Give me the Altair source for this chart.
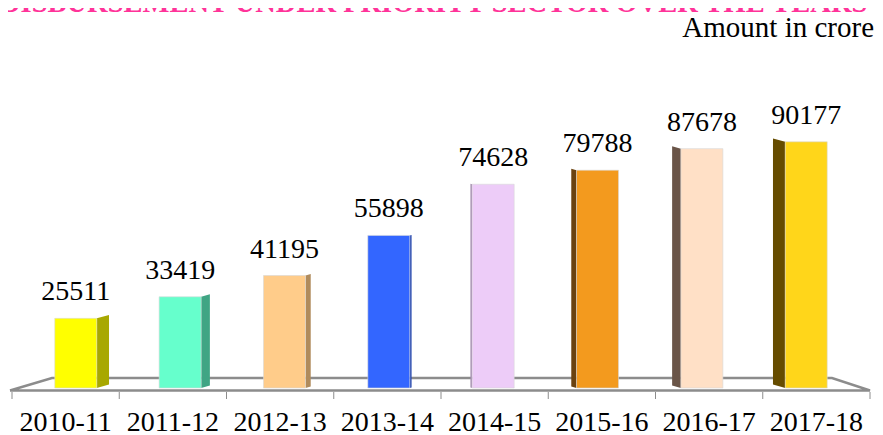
import altair as alt
import pandas as pd

# ---- data ----
years = ["2010-11", "2011-12", "2012-13", "2013-14", "2014-15", "2015-16", "2016-17", "2017-18"]
amounts = [25511, 33419, 41195, 55898, 74628, 79788, 87678, 90177]
front_colors = ["#FFFF00", "#66FFCC", "#FFCC8A", "#3366FF", "#EDCCF8", "#F39A1E", "#FFE0C6", "#FFD61A"]
side_colors = ["#A8A800", "#40A584", "#B08B5C", "#2447B0", "#A58FB0", "#6A4210", "#6A5548", "#664C00"]
title_text = "DISBURSEMENT UNDER PRIORITY SECTOR OVER THE YEARS"
unit_text = "Amount in crore"

# ---- layout ----
W, H = 858, 273
Y_MAX = 100000
PX_X = W / len(years)          # px per category
PX_Y = H / Y_MAX               # px per amount unit
FONT = "Liberation Serif"

front_rows, side_rows = [], []
for i, (yr, v) in enumerate(zip(years, amounts)):
    k = 3.5 - i
    center = i + 0.5 + k * 2.9 / PX_X
    half = 21 / PX_X
    front_rows.append(dict(year=yr, amount=v, mid=i + 0.5, x0=center - half,
                           x1=center + half, xc=center, zero=0, color=front_colors[i]))
    w_px = abs(k) * 3.5
    w = w_px / PX_X
    rise = w_px * 0.28 / PX_Y
    if k > 0:
        inner, outer = center + half, center + half + w
    else:
        inner, outer = center - half, center - half - w
    side_rows.append(dict(bar=yr, sx=inner, top=v, bot=0, color=side_colors[i]))
    side_rows.append(dict(bar=yr, sx=outer, top=v + rise, bot=rise, color=side_colors[i]))

front_df = pd.DataFrame(front_rows)
side_df = pd.DataFrame(side_rows)

xs = alt.Scale(domain=[0, len(years)], nice=False, zero=False)
ys = alt.Scale(domain=[0, Y_MAX], nice=False)

# floor (perspective frame)
fy_front = -2.5 / PX_Y
fy_back = 10 / PX_Y
floor_df = pd.DataFrame(dict(
    fx=[-2 / PX_X, 40 / PX_X, (W - 38) / PX_X, W / PX_X, -2 / PX_X],
    fy=[fy_front, fy_back, fy_back, fy_front, fy_front],
    o=[0, 1, 2, 3, 4],
))
floor = alt.Chart(floor_df).mark_line(color="#8C8C8C", strokeWidth=2.4).encode(
    x=alt.X("fx:Q", scale=xs, axis=None),
    y=alt.Y("fy:Q", scale=ys, axis=None),
    order="o:Q",
)

ticks_df = pd.DataFrame(dict(b=list(range(len(years) + 1))))
ticks = alt.Chart(ticks_df).mark_rule(color="#8C8C8C", strokeWidth=1).encode(
    x=alt.X("b:Q", scale=xs),
    y=alt.value(277),
    y2=alt.value(284),
)

sides = alt.Chart(side_df).mark_area(opacity=1).encode(
    x=alt.X("sx:Q", scale=xs),
    y=alt.Y("top:Q", scale=ys),
    y2="bot:Q",
    detail="bar:N",
    color=alt.Color("color:N", scale=None),
)

fronts = alt.Chart(front_df).mark_rect(stroke="#D8D8D8", strokeWidth=0.6).encode(
    x=alt.X("x0:Q", scale=xs),
    x2="x1:Q",
    y=alt.Y("amount:Q", scale=ys),
    y2="zero:Q",
    fill=alt.Color("color:N", scale=None),
)

values = alt.Chart(front_df).mark_text(font=FONT, fontSize=28, dy=-18, baseline="alphabetic",
                                      align="center", color="#000000").encode(
    x=alt.X("xc:Q", scale=xs),
    y=alt.Y("amount:Q", scale=ys),
    text="amount:Q",
)

cats = alt.Chart(front_df).mark_text(font=FONT, fontSize=28, baseline="alphabetic",
                                    align="center", color="#000000").encode(
    x=alt.X("mid:Q", scale=xs),
    y=alt.value(316),
    text="year:N",
)

unit = alt.Chart(pd.DataFrame(dict(t=[unit_text]))).mark_text(
    font=FONT, fontSize=29, align="right", baseline="alphabetic", color="#000000"
).encode(x=alt.value(862), y=alt.value(-78), text="t:N")

title = alt.Chart(pd.DataFrame(dict(t=[title_text]))).mark_text(
    font=FONT, fontSize=28.5, fontWeight="bold", align="left", baseline="alphabetic", color="#FF3399"
).encode(x=alt.value(-12), y=alt.value(-103), text="t:N")

chart = alt.layer(floor, ticks, sides, fronts, values, cats, unit, title).properties(
    width=W, height=H,
    background="white",
    autosize=alt.AutoSizeParams(type="none"),
    padding={"left": 4, "top": 107, "right": 5, "bottom": 44},
).configure_view(stroke="transparent", strokeWidth=0)

chart.save("out.html", embed_options={"renderer": "svg", "actions": False})
